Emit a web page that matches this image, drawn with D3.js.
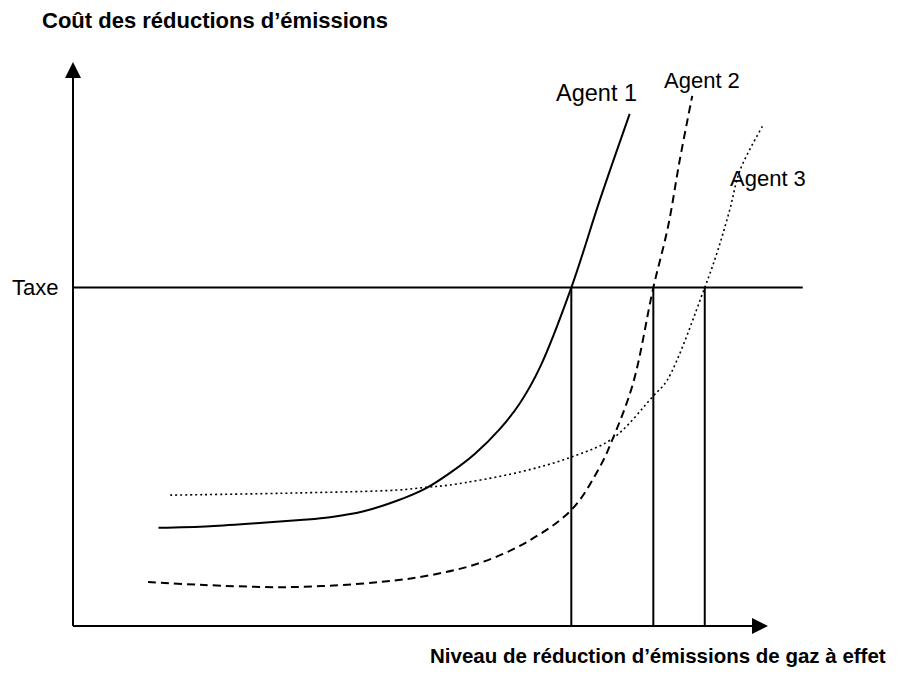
<!DOCTYPE html>
<html>
<head>
<meta charset="utf-8">
<script src="https://cdn.jsdelivr.net/npm/d3@7"></script>
<style>
  body { margin: 0; background: #fff; }
  text { font-family: "Liberation Sans", Arial, sans-serif; fill: #000; }
  .title { font-weight: bold; }
  .curve { fill: none; stroke: #000; }
  .guide { stroke: #000; stroke-width: 2; }
</style>
</head>
<body>
<svg id="chart" width="909" height="675"></svg>
<script>

// curve values (abstract units 0-100)
var agent1 = [[12.3, 17.4], [19.7, 17.7], [27.3, 18.3], [32.7, 18.8], [37.0, 19.3],
              [41.7, 20.3], [46.6, 22.2], [50.9, 24.5], [54.2, 27.1], [57.8, 30.5],
              [61.4, 34.9], [64.3, 39.5], [67.2, 45.9], [71.7, 60], [75.8, 75.5],
              [80.1, 90.8]];

var agent2 = [[10.8, 7.8], [18.3, 7.3], [31.2, 6.9], [44.2, 7.8], [51.4, 9.0],
              [58.6, 11.2], [65.3, 14.9], [71.8, 20.7], [75.8, 28.2], [77.7, 33.3],
              [80.6, 43.1], [83.5, 60], [85.6, 70.7], [87.3, 82.6], [89.1, 94.0]];

var agent3 = [[14.0, 23.2], [32.7, 23.6], [46.6, 24.1], [50.9, 24.6], [54.2, 25.0],
              [64.3, 27.3], [71.8, 30.0], [77.7, 33.3], [83.5, 40.8], [85.5, 43.6],
              [90.9, 60], [92.8, 66.7], [94.5, 73.8], [96.0, 80.9], [99.3, 88.8]];

var taxe = 60;                          // tax level
var equilibres = [71.7, 83.5, 90.9];    // where each curve meets the tax
var taxe_end = 105;

var labels = ["Agent 1", "Agent 2", "Agent 3"];
var y_title = "Coût des réductions d’émissions";
var x_title = "Niveau de réduction d’émissions de gaz à effet";

var svg = d3.select("#chart");

var x = d3.scaleLinear().domain([0, 100]).range([73, 768]);
var y = d3.scaleLinear().domain([0, 100]).range([626, 62]);

var line = d3.line()
             .x(d => x(d[0]))
             .y(d => y(d[1]))
             .curve(d3.curveCatmullRom.alpha(0.5));

// arrow heads for the axes
svg.append("defs").append("marker")
   .attr("id", "arrow")
   .attr("viewBox", "0 0 16 16")
   .attr("refX", 0)
   .attr("refY", 8)
   .attr("markerWidth", 16)
   .attr("markerHeight", 16)
   .attr("markerUnits", "userSpaceOnUse")
   .attr("orient", "auto")
   .append("path")
   .attr("d", "M0,0 L16,8 L0,16 Z")
   .attr("fill", "#000");

// axes
svg.append("line")
   .attr("class", "guide")
   .attr("x1", x(0)).attr("y1", y(0))
   .attr("x2", x(0)).attr("y2", y(100) + 16)
   .attr("marker-end", "url(#arrow)");

svg.append("line")
   .attr("class", "guide")
   .attr("x1", x(0)).attr("y1", y(0))
   .attr("x2", x(100) - 16).attr("y2", y(0))
   .attr("marker-end", "url(#arrow)");

// tax line and vertical drops
svg.append("line")
   .attr("class", "guide")
   .attr("x1", x(0)).attr("y1", y(taxe))
   .attr("x2", x(taxe_end)).attr("y2", y(taxe));

svg.selectAll(".drop")
   .data(equilibres)
   .enter()
   .append("line")
   .attr("class", "guide drop")
   .attr("x1", d => x(d)).attr("y1", y(taxe))
   .attr("x2", d => x(d)).attr("y2", y(0));

// the three cost curves
svg.append("path")
   .attr("class", "curve")
   .datum(agent1)
   .attr("stroke-width", 2)
   .attr("d", line);

svg.append("path")
   .attr("class", "curve")
   .datum(agent2)
   .attr("stroke-width", 2)
   .attr("stroke-dasharray", "8,5")
   .attr("d", line);

svg.append("path")
   .attr("class", "curve")
   .datum(agent3)
   .attr("stroke-width", 1.6)
   .attr("stroke-dasharray", "2,3")
   .attr("d", line);

// texts
svg.append("text")
   .attr("x", 556).attr("y", 101)
   .style("font-size", "23.5px")
   .text(labels[0]);

svg.append("text")
   .attr("x", 664).attr("y", 88)
   .style("font-size", "22px")
   .text(labels[1]);

svg.append("text")
   .attr("x", 730).attr("y", 186)
   .style("font-size", "22px")
   .text(labels[2]);

svg.append("text")
   .attr("x", 12).attr("y", y(taxe) + 7)
   .style("font-size", "22px")
   .text("Taxe");

svg.append("text")
   .attr("class", "title")
   .attr("x", 42).attr("y", 28)
   .style("font-size", "22px")
   .text(y_title);

svg.append("text")
   .attr("class", "title")
   .attr("x", 430).attr("y", 663)
   .style("font-size", "20.5px")
   .text(x_title);

</script>
</body>
</html>
